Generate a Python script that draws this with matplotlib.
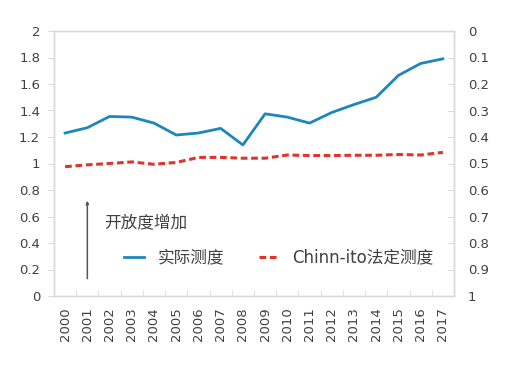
import matplotlib.pyplot as plt
import numpy as np

plt.rcParams['font.family'] = ['DejaVu Sans', 'Noto Sans CJK SC']

years = [str(y) for y in range(2000, 2018)]
# 实际测度 (left axis)
actual = [1.23, 1.27, 1.355, 1.35, 1.305, 1.215, 1.23, 1.265, 1.14, 1.375,
          1.35, 1.305, 1.385, 1.445, 1.50, 1.665, 1.755, 1.79]
# Chinn-ito 法定测度 (right axis, inverted)
chinn_ito = [0.512, 0.505, 0.500, 0.494, 0.503, 0.496, 0.477, 0.477, 0.480, 0.480,
             0.468, 0.470, 0.470, 0.469, 0.469, 0.466, 0.468, 0.458]

blue = '#1b87bd'
red = '#e0332a'
grey = '#d9d9d9'
txt = '#404040'

fig = plt.figure(figsize=(5.2, 3.69), dpi=100)
ax = fig.add_axes([54/520, 1 - 296/369, 400/520, 265/369])
ax2 = ax.twinx()

x = np.arange(len(years))
l1, = ax.plot(x, actual, color=blue, lw=2)
l2, = ax2.plot(x, chinn_ito, color=red, lw=2.2, ls=(0, (2.2, 1.2)))

ax.set_xlim(-0.5, len(years) - 0.5)
ax.set_ylim(0, 2)
ax.set_yticks(np.arange(0, 2.01, 0.2))
ax.set_yticklabels(['0', '0.2', '0.4', '0.6', '0.8', '1', '1.2', '1.4', '1.6', '1.8', '2'])
ax2.set_ylim(1, 0)
ax2.set_yticks(np.arange(0, 1.01, 0.1))
ax2.set_yticklabels(['0', '0.1', '0.2', '0.3', '0.4', '0.5', '0.6', '0.7', '0.8', '0.9', '1'])

ax.set_xticks(x)
ax.set_xticklabels(years, rotation=90)
ax.set_xticks(x[:-1] + 0.5, minor=True)
ax.tick_params(axis='x', which='major', length=0, labelsize=9.5, colors=txt, pad=8)
ax.tick_params(axis='x', which='minor', length=4, direction='in', color=grey)
ax.tick_params(axis='y', length=4, color=grey, labelsize=9.5, labelcolor=txt, pad=6)
ax2.tick_params(axis='y', length=4, direction='in', color=grey, labelsize=9.5,
                labelcolor=txt, pad=10)

for a in (ax, ax2):
    for s in a.spines.values():
        s.set_color(grey)
        s.set_linewidth(1)

ax.annotate('', xy=(1, 0.74), xytext=(1, 0.11),
            arrowprops=dict(arrowstyle='-|>', color='#555555', lw=1.1,
                            mutation_scale=4))
ax.text(1.75, 0.55, '开放度增加', fontsize=12, color=txt,
        family=['Noto Sans CJK SC'], va='center')

leg = ax.legend([l1, l2], ['实际测度', 'Chinn-ito法定测度'], loc='lower left',
                bbox_to_anchor=(0.138, 0.055), ncol=2, frameon=False,
                handlelength=1.2, handletextpad=0.8, columnspacing=2.1,
                prop={'family': ['DejaVu Sans', 'Noto Sans CJK SC'], 'size': 12})
for t in leg.get_texts():
    t.set_color(txt)

fig.savefig('out.png', dpi=100)
